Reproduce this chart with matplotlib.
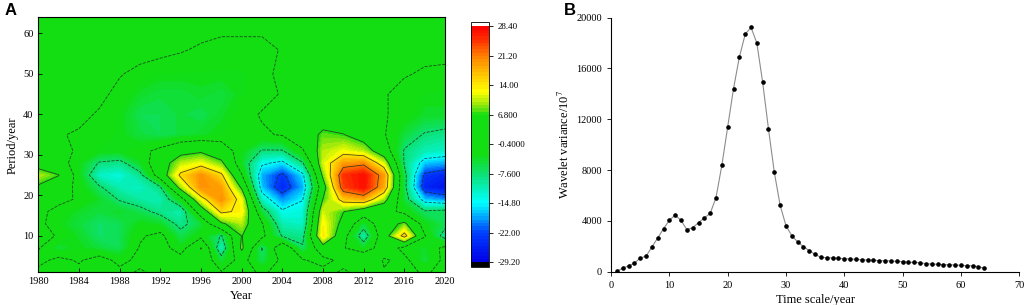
import numpy as np
import matplotlib
matplotlib.use("Agg")
import matplotlib.pyplot as plt
from matplotlib.colors import LinearSegmentedColormap

plt.rcParams['font.family'] = ['Liberation Serif', 'DejaVu Serif']
plt.rcParams['mathtext.fontset'] = 'stix'

years = [1980, 1982, 1984, 1986, 1988, 1990, 1992, 1994, 1996, 1998, 2000,
         2002, 2004, 2006, 2008, 2010, 2012, 2014, 2016, 2018, 2020]
periods = [1, 4, 7, 10, 13, 16, 19, 22, 25, 28, 31, 35, 40, 45, 50, 56, 64]
coef = [
    [1, 0, 1, 0, 1, -1, 1, 0, 1, 0, 1, -1, 1, 0, 1, -1, 1, 0, 1, -1, 1],
    [-2, 1, -1, 2, -2, 1, 0, 2, 5, -5, 2, -6, 1, 0, -2, 1, 6, -1, 1, -5, 1],
    [0, -5, -3, -5, -6, 0, 2, -3, 7, -12, 8, -8, 5, -7, 4, 0, -4, 3, -2, -4, 1],
    [2, -1, -4, -7, -6, -1, 1, -6, -2, -8, 7, 1, -8, -9, 14, 2, -11, 4, 16, 0, -10],
    [1, -3, -5, -7, -6, -3, -4, -9, -5, 6, 10, 0, -11, -12, 13, 5, -5, 4, 8, -3, -6],
    [1, -2, -4, -5, -4, -6, -9, -11, 3, 15, 13, -5, -14, -13, 11, 7, 3, 2, -2, -7, -6],
    [2, 1, -1, -4, -8, -10, -11, -3, 12, 20, 12, -12, -19, -15, 7, 16, 18, 9, -5, -17, -19],
    [6, 3, -2, -7, -11, -12, -8, 9, 20, 19, 6, -17, -25, -18, 4, 24, 27.5, 18, -6, -25, -27],
    [10, 7, -3, -12, -13, -9, 3, 15, 20, 15, 0, -18, -23, -16, 8, 25, 27.5, 19, -6, -23, -25],
    [4, 2, -3, -8, -9, -4, 4, 10, 12, 8, -4, -14, -16, -8, 11, 19, 20, 11, -8, -17, -18],
    [2, 1, -1, -3, -3, -2, 1, 5, 6, 3, -3, -8, -8, -1, 10, 12, 10, 3, -8, -11, -12],
    [1, 0, -1, -2, -3, -5, -6, -5, -4, -3, -2, -1, 0, 3, 8, 7, 4, 0, -5, -8, -9],
    [2, 2, 1, -1, -3, -6, -6, -5, -6, -4, -2, 0, 1, 2, 3, 2, 1, 0, -2, -4, -4],
    [4, 3, 2, 1, -2, -4, -5, -5, -4, -5, -3, -2, 0, 1, 2, 2, 1, 0, -2, -3, -3],
    [6, 3, 3, 2, 0, -2, -3, -3, -3, -3, -3, -2, 1, 2, 2, 1, 2, 1, 0, -1, -2],
    [2, 3, 2, 2, 2, 2, 1, 0, -1, -2, -2, -2, 0, 1, 2, 2, 1, 2, 1, 1, 2],
    [2, 2, 2, 3, 2, 2, 2, 1, 2, 2, 2, 2, 2, 3, 2, 2, 2, 2, 2, 2, 2],
]
cbar_ticks = [28.4, 21.2, 14.0, 6.8, -0.4, -7.6, -14.8, -22.0, -29.2]
cbar_labels = ['28.40', '21.20', '14.00', '6.800', '-0.4000', '-7.600',
               '-14.80', '-22.00', '-29.20']
line_levels = [-22.0, -14.8, -7.6, -0.4, 6.8, 14.0, 21.2]

# ---- panel B: wavelet variance ----
scale = np.arange(1, 65)
variance = [50, 260, 470, 660, 1080, 1210, 1940, 2650, 3390, 4040,
            4460, 4040, 3310, 3460, 3860, 4230, 4590, 5830, 8370, 11390,
            14410, 16880, 18690, 19240, 18010, 14910, 11230, 7820, 5220, 3620,
            2830, 2340, 1970, 1650, 1360, 1130, 1100, 1080, 1050, 1020,
            1000, 970, 945, 920, 890, 870, 870, 840, 810, 790,
            735, 735, 710, 630, 600, 580, 550, 550, 525, 500,
            470, 470, 390, 260]

vmin, vmax = -29.2, 28.4
anchors = [(-29.2, (0.0, 0.0, 0.9)), (-22.0, (0.0, 0.25, 1.0)),
           (-14.8, (0.0, 1.0, 1.0)), (-7.6, (0.05, 0.88, 0.45)),
           (-3.0, (0.07, 0.87, 0.07)), (6.8, (0.07, 0.87, 0.07)),
           (9.0, (0.55, 0.9, 0.05)), (12.5, (1.0, 1.0, 0.0)),
           (14.0, (1.0, 0.92, 0.0)), (18.0, (1.0, 0.7, 0.0)),
           (21.2, (1.0, 0.5, 0.0)), (25.0, (1.0, 0.2, 0.0)),
           (28.4, (1.0, 0.0, 0.0))]
cmap = LinearSegmentedColormap.from_list(
    'surfer', [((v - vmin) / (vmax - vmin), c) for v, c in anchors])
cmap.set_over('white')
cmap.set_under('black')

fig = plt.figure(figsize=(10.24, 3.05), dpi=100)

ax = fig.add_axes([0.0374, 0.1072, 0.3972, 0.8361])
Z = np.array(coef, dtype=float)
lev = np.linspace(vmin, vmax, 73)
cf = ax.contourf(years, periods, Z, levels=lev, cmap=cmap, extend='both')
ax.contour(years, periods, Z, levels=line_levels, colors='#1e2a1e',
           linewidths=0.6, alpha=0.8)
ax.set_xlim(1980, 2020)
ax.set_ylim(1, 64)
ax.set_xticks(range(1980, 2021, 4))
ax.set_yticks([10, 20, 30, 40, 50, 60])
ax.tick_params(direction='in', labelsize=7.5, length=3, width=0.6)
for s in ax.spines.values():
    s.set_linewidth(0.8)
ax.set_xlabel('Year', fontsize=9, labelpad=3)
ax.set_ylabel('Period/year', fontsize=9, labelpad=3)

cax = fig.add_axes([0.4597, 0.1246, 0.0179, 0.8043])
cb = fig.colorbar(cf, cax=cax, extend='both', extendrect=True, extendfrac=0.02)
cb.set_ticks(cbar_ticks)
cb.set_ticklabels(cbar_labels)
cb.ax.tick_params(labelsize=6.5, length=3, width=0.6)
cb.outline.set_linewidth(0.6)

bx = fig.add_axes([0.5967, 0.1092, 0.3987, 0.8328])
bx.plot(scale, variance, color='#8c8c8c', lw=0.8)
bx.plot(scale, variance, 'o', color='black', ms=2.3)
bx.set_xlim(0, 70)
bx.set_ylim(0, 20000)
bx.set_xticks(range(0, 71, 10))
bx.set_yticks(range(0, 20001, 4000))
bx.spines['top'].set_visible(False)
bx.spines['right'].set_visible(False)
bx.tick_params(labelsize=7.5, length=3, width=0.6)
bx.set_xlabel('Time scale/year', fontsize=9, labelpad=3)
bx.set_ylabel('Wavelet variance/10$^7$', fontsize=9, labelpad=3)

fig.text(0.004, 0.99, 'A', fontsize=12, fontweight='bold', va='top',
         family=['Liberation Sans', 'DejaVu Sans'])
fig.text(0.551, 0.99, 'B', fontsize=12, fontweight='bold', va='top',
         family=['Liberation Sans', 'DejaVu Sans'])

fig.savefig('out.png', dpi=100)
